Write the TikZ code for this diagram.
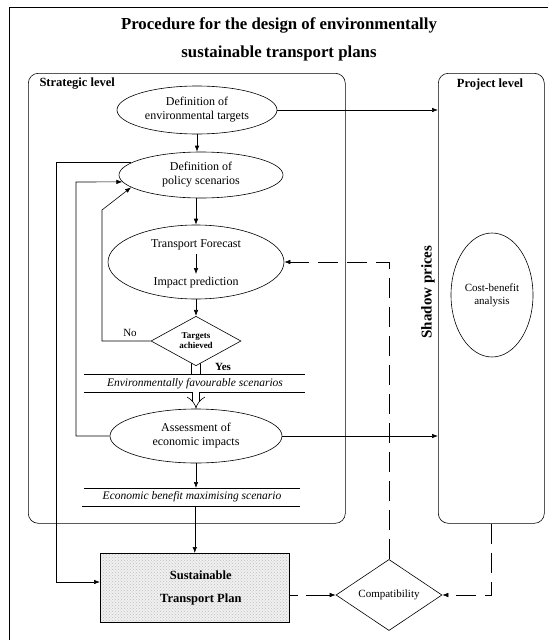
\documentclass[tikz,border=0pt]{standalone}
\usepackage{fontspec}
\setmainfont{Liberation Serif}
\usetikzlibrary{shapes.geometric, arrows.meta, patterns, backgrounds, calc}
\begin{document}
\begin{tikzpicture}[x=1pt, y=-1pt,
  ln/.style={line width=0.6pt},
  arr/.style={ln, -{Latex[length=6pt,width=4.5pt]}},
  dsh/.style={dash pattern=on 20pt off 9pt},
  ell/.style={ellipse, draw, ln, inner sep=0pt, align=center, font=\fontsize{12}{14}\selectfont},
  lvl/.style={draw, ln, rounded corners=10pt, inner sep=0pt, anchor=north west},
  ttl/.style={font=\fontsize{16.8}{20}\selectfont\bfseries},
  lbl/.style={font=\fontsize{12.5}{14}\selectfont\bfseries},
  itl/.style={font=\fontsize{11.5}{13}\selectfont\itshape},
  dia/.style={diamond, draw, ln, fill=white, inner sep=0pt, align=center}
]
\useasboundingbox (0,0) rectangle (559,640);
% outer frame (visible parts)
\draw[ln] (9,640) -- (9,7) -- (548,7);

% title
\node[ttl] (t1) at (279,25) {Procedure for the design of environmentally};
\node[ttl] (t2) at (279,53) {sustainable transport plans};

% level boxes
\node[lvl, minimum width=317pt, minimum height=450pt] (SB) at (28,73) {};
\node[lvl, minimum width=106pt, minimum height=450pt] (PB) at (438,73) {};
\node[lbl, anchor=west] (SL) at (36,84) {Strategic level};
\node[lbl] (PL) at (490,84) {Project level};

% main column
\node[ell, minimum width=160pt, minimum height=48pt] (E1) at (197,110) {Definition of\\environmental targets};
\node[ell, minimum width=164pt, minimum height=46pt] (E2) at (201,175) {Definition of\\policy scenarios};
\node[ell, minimum width=176pt, minimum height=74pt] (E3) at (196,262) {};
\node[font=\fontsize{12}{14}\selectfont] (TF) at (196,245) {Transport Forecast};
\node[font=\fontsize{12}{14}\selectfont] (IP) at (196,283) {Impact prediction};
\node[dia, minimum width=90pt, minimum height=40pt, font=\fontsize{9}{10}\selectfont\bfseries] (T) at (196,341) {Targets\\achieved};
\node[font=\fontsize{11}{13}\selectfont] (NO) at (130,333) {No};
\node[font=\fontsize{11}{13}\selectfont\bfseries] (YES) at (223,367) {Yes};

\coordinate (L1a) at (84,374); \coordinate (L1b) at (305,374);
\coordinate (L2a) at (84,392); \coordinate (L2b) at (305,392);
\node[itl] (EF) at (195,384) {Environmentally favourable scenarios};
\node[ell, minimum width=172pt, minimum height=54pt] (E4) at (196,436) {Assessment of\\economic impacts};
\coordinate (L3a) at (84,488); \coordinate (L3b) at (300,488);
\coordinate (L4a) at (82,506); \coordinate (L4b) at (300,506);
\node[itl] (EB) at (192,497) {Economic benefit maximising scenario};

\node[draw, ln, anchor=north west, minimum width=189pt, minimum height=69pt, inner sep=0pt,
      preaction={fill=black!6}, pattern=crosshatch dots, pattern color=black!25,
      ] (STP) at (100,553) {};
\node[font=\fontsize{12.5}{23}\selectfont\bfseries, align=center] (STPt) at ($(STP.center)+(6,0)$) {Sustainable\\Transport Plan};

\node[dia, minimum width=106pt, minimum height=62pt, font=\fontsize{11}{13}\selectfont] (C) at (389,595) {Compatibility};

\node[font=\fontsize{15}{17}\selectfont\bfseries, rotate=90] (SP) at (428,292) {Shadow prices};
\node[ell, minimum width=82pt, minimum height=124pt, font=\fontsize{11}{13}\selectfont] (CB) at (492,295) {Cost-benefit\\analysis};

% horizontal rules
\draw[ln] (L1a) -- (L1b);
\draw[ln] (L2a) -- (L2b);
\draw[ln] (L3a) -- (L3b);
\draw[ln] (L4a) -- (L4b);

% double line under diamond
\begin{scope}[on background layer]
\draw[ln, double distance=8pt] (T.center) -- (T.center |- L1a);
\end{scope}
\draw[ln, double distance=6pt, -{Implies}] (E4.north |- L2a) -- (E4.north);

% connectors
\draw[arr] (E1.east) -- (E1.east -| PB.west);
\draw[arr] (E1.south) -- (E1.south |- E2.north);
\draw[arr] (E3.north |- E2.south) -- (E3.north);
\draw[arr] (TF.south) -- (IP.north);
\draw[arr] (E3.south) -- (T.north);
\draw[arr] (T.west) -| (102,210) -- (E2.190);
\draw[arr] (E4.west) -| (76,182) -- (E2.185);
\coordinate (c3) at (56,582);
\draw[arr] (E2.170) -| (c3) -- (c3 -| STP.west);
\draw[arr] (E4.east) -- (E4.east -| PB.west);
\draw[arr] (E4.south) -- (E4.south |- L3a);
\draw[arr] (STP.north |- L4a) -- (STP.north);

% dashed connectors
\draw[arr, dsh] (C.north) |- (E3.east);
\draw[arr, dsh] (PB.south) |- (C.east);
\draw[arr, dash pattern=on 8pt off 8pt on 60pt off 1pt] (STP.east |- C.west) -- (C.west);
\end{tikzpicture}
\end{document}
